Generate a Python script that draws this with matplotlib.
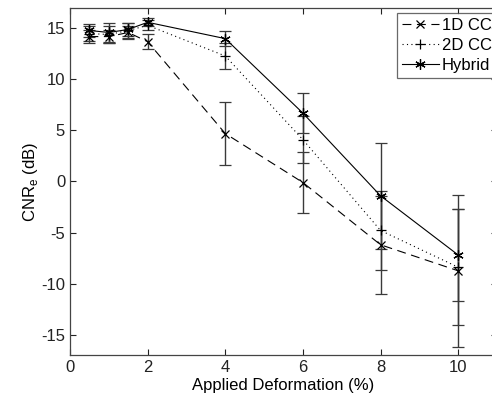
import numpy as np
import matplotlib.pyplot as plt

plt.rcParams['font.family'] = ['Liberation Sans', 'DejaVu Sans']
plt.rcParams['axes.unicode_minus'] = False

# Applied deformation (%) and CNRe (dB) with standard deviations
deform = [0.5, 1.0, 1.5, 2.0, 4.0, 6.0, 8.0, 10.0]

cnr_1d = [14.2, 14.2, 14.6, 13.7, 4.7, -0.1, -6.2, -8.75]
err_1d = [0.6, 0.6, 0.6, 0.75, 3.05, 3.0, 4.8, 7.45]

cnr_2d = [14.5, 14.4, 14.8, 15.3, 12.3, 4.1, -4.8, -8.4]
err_2d = [0.7, 0.8, 0.7, 0.5, 1.25, 2.3, 3.85, 5.7]

cnr_hy = [14.8, 14.6, 14.9, 15.6, 14.0, 6.7, -1.4, -7.2]
err_hy = [0.6, 0.9, 0.6, 0.4, 0.7, 1.95, 5.2, 4.5]

fig = plt.figure(figsize=(4.92, 4.0), dpi=100)
# axes run a little past the right edge of the figure
ax = fig.add_axes([70 / 492, 45 / 400, 427 / 492, 347 / 400])

ecol = '#3a3a3a'
common = dict(color='black', lw=0.8, ecolor=ecol, elinewidth=1.0,
              capsize=4, capthick=1.0, mew=0.9)

asterisk = (6, 2, 0)

series = [
    (cnr_1d, err_1d, 'x', 5.5, (0, (8, 5)), '1D CC'),
    (cnr_2d, err_2d, '+', 7.5, (0, (1, 3)), '2D CC'),
    (cnr_hy, err_hy, asterisk, 7.5, '-', 'Hybrid'),
]
handles = []
for y, e, mk, ms, ls, lab in series:
    cont = ax.errorbar(deform, y, yerr=e, marker=mk, ms=ms, ls=ls,
                       label=lab, **common)
    handles.append(cont.lines[0])

ax.set_xlim(0, 11)
ax.set_ylim(-17, 17)
ax.set_xticks([0, 2, 4, 6, 8, 10])
ax.set_yticks([-15, -10, -5, 0, 5, 10, 15])
ax.tick_params(direction='in', top=True, right=True, length=4,
               labelsize=12, colors='#222222', width=0.8)
for s in ax.spines.values():
    s.set_color('#444444')
    s.set_linewidth(0.9)

ax.set_xlabel('Applied Deformation (%)', fontsize=12, labelpad=2)
ax.set_ylabel(r'CNR$_{\mathregular{e}}$ (dB)', fontsize=12, labelpad=1)

leg = ax.legend(handles, [s[5] for s in series], loc='upper right',
                bbox_to_anchor=(1.0, 0.985),
                fontsize=12, frameon=True, fancybox=False,
                handlelength=2.2, handletextpad=0.2, labelspacing=0.3,
                borderpad=0.3, borderaxespad=0.0)
leg.get_frame().set_edgecolor('#444444')
leg.get_frame().set_linewidth(0.9)

fig.savefig('out.png', dpi=100)
